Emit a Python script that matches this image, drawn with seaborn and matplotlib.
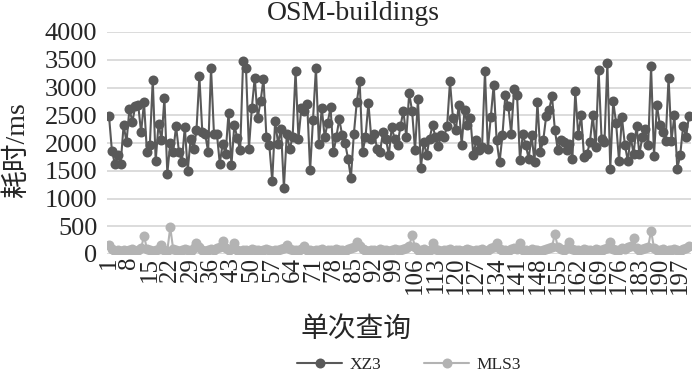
import matplotlib
matplotlib.use("Agg")
import matplotlib.pyplot as plt
import pandas as pd
import seaborn as sns

# ---------------- data ----------------
query_idx = list(range(1, 201))

xz3 = [
    2480, 1850, 1630, 1780, 1630, 2320, 2020, 2620, 2380, 2660, 2690, 2190, 2730, 1840, 1960, 3140,
    1680, 2350, 2050, 2810, 1450, 2000, 1840, 2300, 1840, 1660, 2290, 1500, 2080, 1890, 2230,
    3200, 2200, 2160, 1840, 3350, 2170, 2170, 1630, 1990, 1810, 2540, 1600, 2330, 2085, 1870, 3470,
    3350, 1900, 2630, 3180, 2450, 2750, 3160, 2110, 1960, 1320, 2400, 1990, 2260, 1190, 2170, 1890, 2110,
    3300, 2080, 2630, 2570, 2700, 1510, 2420, 3350, 1990, 2630, 2100, 2360, 2640, 1830, 2110, 2430,
    2140, 2000, 1720, 1370, 2160, 2730, 3110, 1840, 2100, 2720, 2080, 2160, 1900, 1840, 2200, 2080,
    1780, 2280,
    2080, 1970, 2300, 2580, 2110, 2900, 2570, 1870, 2790, 1550, 2020, 1780, 2080, 2320, 2110, 1950,
    2140, 2110, 2300, 3110, 2450, 2230, 2690, 1970, 2600, 2320, 2450, 1780, 2050, 1870, 1930,
    3290, 1890, 2460, 3050, 2050, 1650, 2140, 2870, 2670, 2170, 2970, 2870, 1700, 2160, 1960, 1720,
    2140, 1660, 2730, 1840, 2050, 2480, 2600, 2840, 2230, 1870, 2060, 2020, 1870, 1990, 1720, 2930, 2140,
    2500, 1750, 1800, 2010, 2500, 1920, 3320, 2080, 2010, 3440, 1540, 2750, 2360, 1680, 2460, 1970,
    1680, 2110, 1800, 2310, 1800, 2110, 2260, 1960, 3380, 1770, 2680, 2330, 2190, 2040, 3180, 2040,
    2500, 1540, 1780, 2310, 2110, 2480,
]

mls3 = [
    160, 90, 60, 70, 50, 80, 60, 70, 90, 60, 80, 100, 330, 90, 70, 60, 80, 90, 170, 80,
    60, 480, 90, 70, 60, 80, 90, 70, 60, 100, 200, 120, 80, 60, 70, 90, 80, 110, 130, 230,
    100, 80, 90, 190, 70, 60, 80, 70, 60, 90, 80, 70, 60, 80, 90, 70, 60, 80, 70, 90,
    110, 160, 90, 70, 80, 60, 90, 150, 80, 70, 60, 80, 70, 90, 60, 70, 80, 60, 90, 70,
    80, 60, 90, 100, 120, 210, 140, 90, 70, 60, 80, 70, 60, 90, 70, 80, 60, 70, 90, 80,
    70, 90, 110, 140, 340, 120, 80, 70, 90, 60, 80, 190, 90, 70, 60, 80, 70, 90, 60, 80,
    70, 60, 80, 90, 70, 60, 80, 70, 90, 60, 80, 100, 120, 190, 90, 70, 80, 60, 90, 110,
    90, 200, 80, 70, 60, 90, 70, 80, 60, 70, 90, 110, 130, 360, 120, 90, 80, 100, 220, 90,
    70, 80, 60, 90, 70, 80, 60, 90, 80, 70, 90, 110, 220, 90, 80, 70, 100, 90, 120, 140,
    290, 100, 80, 90, 110, 130, 420, 110, 80, 70, 90, 60, 80, 70, 90, 80, 60, 90, 110, 140,
]

series_names = ["XZ3", "MLS3"]
series_colors = ["#595959", "#b3b3b3"]
x_ticks = list(range(1, 201, 7))
x_tick_labels = [str(v) for v in x_ticks]
y_ticks = [0, 500, 1000, 1500, 2000, 2500, 3000, 3500, 4000]

title_text = "OSM-buildings"
x_label = "单次查询"
y_label = "耗时/ms"

# ---------------- figure ----------------
sns.set_theme(style="white")
plt.rcParams["font.family"] = ["Liberation Serif", "Noto Sans CJK SC", "DejaVu Sans"]

W, H = 700, 373
fig = plt.figure(figsize=(W / 100, H / 100), dpi=100)
ax = fig.add_axes([107 / W, 1 - 254 / H, (691 - 107) / W, (254 - 32) / H])

df = pd.DataFrame({
    "idx": query_idx * 2,
    "ms": xz3 + mls3,
    "series": [series_names[0]] * len(xz3) + [series_names[1]] * len(mls3),
})

sns.lineplot(
    data=df, x="idx", y="ms", hue="series", hue_order=series_names,
    palette=series_colors, marker="o", markersize=7.2, markeredgewidth=0,
    linewidth=1.5, ax=ax, legend=True,
)

ax.set_xlim(0.3, 200.7)
ax.set_ylim(0, 4000)
ax.set_yticks(y_ticks)
ax.set_yticklabels([str(v) for v in y_ticks], fontsize=19)
ax.set_xticks(x_ticks)
ax.set_xticklabels(x_tick_labels, rotation=90, fontsize=18)
ax.tick_params(axis="y", length=0, pad=7)
ax.tick_params(axis="x", length=0, pad=2)
ax.grid(axis="y", color="#d9d9d9", linewidth=1.3)
ax.set_axisbelow(True)
for s in ax.spines.values():
    s.set_visible(False)
ax.set_xlabel("")
ax.set_ylabel("")

fig.text(353 / W, 1 - 13 / H, title_text, ha="center", va="center", fontsize=20)
fig.text(356 / W, 1 - 330 / H, x_label, ha="center", va="center", fontsize=20)
fig.text(17 / W, 1 - 150 / H, y_label, ha="center", va="center", rotation=90, fontsize=20)

sns.move_legend(
    ax, "center", bbox_to_anchor=(409 / W, 1 - 365 / H), bbox_transform=fig.transFigure,
    ncol=2, frameon=False, title=None, fontsize=12.5, handlelength=2.6, columnspacing=2.5,
    handletextpad=0.4,
)

fig.savefig("out.png", dpi=100)
